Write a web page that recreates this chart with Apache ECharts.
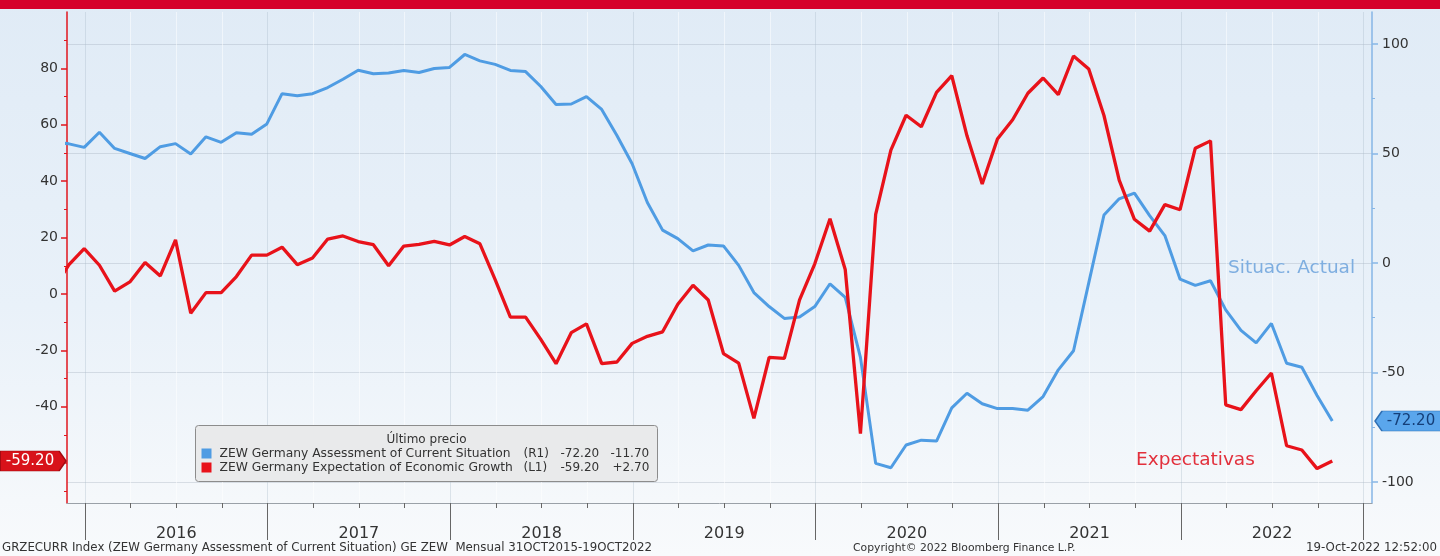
<!DOCTYPE html>
<html><head><meta charset="utf-8">
<script src="https://cdn.jsdelivr.net/npm/echarts@6/dist/echarts.min.js"></script>
<style>
html,body{margin:0;padding:0;width:1440px;height:556px;overflow:hidden;background:linear-gradient(to bottom,#e0ebf6 0%,#e9f1f9 55%,#f5f8fb 90%,#f8fafc 100%);}
#c{width:1440px;height:556px;}
</style></head><body><div id="c"></div>
<script>
// ---- data ----
const firstYear = 2015, firstMonth = 10, monthCount = 85;
const months = [];
for (let i = 0; i < monthCount; i++) {
  const m0 = firstMonth - 1 + i;
  const y = firstYear + Math.floor(m0 / 12), m = (m0 % 12) + 1;
  months.push(y + '-' + (m < 10 ? '0' + m : m));
}
// ZEW Germany Assessment of Current Situation (right axis)
const currentSituation = [
  55.2, 54.4, 52.8,
  59.7, 52.3, 50.0, 47.7, 53.1, 54.5, 49.8, 57.6, 55.1, 59.5, 58.8, 63.5,
  77.3, 76.4, 77.3, 80.1, 83.9, 88.0, 86.4, 86.7, 87.9, 87.0, 88.8, 89.3,
  95.2, 92.3, 90.7, 87.9, 87.4, 80.6, 72.4, 72.6, 76.0, 70.1, 58.2, 45.3,
  27.6, 15.0, 11.1, 5.5, 8.2, 7.8, -1.1, -13.5, -19.9, -25.3, -24.7, -19.9,
  -9.5, -15.7, -43.1, -91.5, -93.5, -83.1, -80.9, -81.3, -66.2, -59.5, -64.3, -66.5,
  -66.4, -67.2, -61.0, -48.8, -40.1, -9.1, 21.9, 29.3, 31.9, 21.6, 12.5, -7.4,
  -10.2, -8.1, -21.4, -30.8, -36.5, -27.6, -45.8, -47.6, -60.5, -72.2
];
// ZEW Germany Expectation of Economic Growth (left axis)
const expectations = [
  1.9, 10.4, 16.1,
  10.2, 1.0, 4.3, 11.2, 6.4, 19.2, -6.8, 0.5, 0.5, 6.2, 13.8, 13.8,
  16.6, 10.4, 12.8, 19.5, 20.6, 18.6, 17.5, 10.0, 17.0, 17.6, 18.7, 17.4,
  20.4, 17.8, 5.1, -8.2, -8.2, -16.1, -24.7, -13.7, -10.6, -24.7, -24.1, -17.5,
  -15.0, -13.4, -3.6, 3.1, -2.1, -21.1, -24.5, -44.1, -22.5, -22.8, -2.1, 10.7,
  26.7, 8.7, -49.5, 28.2, 51.0, 63.4, 59.3, 71.5, 77.4, 56.1, 39.0, 55.0,
  61.8, 71.2, 76.6, 70.7, 84.4, 79.8, 63.3, 40.4, 26.5, 22.3, 31.7, 29.9,
  51.7, 54.3, -39.3, -41.0, -34.3, -28.0, -53.8, -55.3, -61.9, -59.2
];
const yearLabels = ['2016', '2017', '2018', '2019', '2020', '2021', '2022'];
const leftLabelTicks = [-40, -20, 0, 20, 40, 60, 80];
const leftMinorTicks = [-70, -50, -30, -10, 10, 30, 50, 70, 90];
const rightLabelTicks = [-100, -50, 0, 50, 100];
const rightMinorTicks = [-75, -25, 25, 75];

// ---- helpers (month string -> months since Jan 2016, point at month end) ----
function monthPos(s) {
  const y = +s.slice(0, 4), m = +s.slice(5, 7);
  return (y - 2016) * 12 + (m - 1) + 0.95;
}
const xMin = -1.18, xMax = 84.56;
const yearBoundaries = [], yearCenters = [], quarterTicks = [];
for (let i = 0; i <= yearLabels.length; i++) yearBoundaries.push(i * 12);
for (let i = 0; i < yearLabels.length; i++) yearCenters.push(i * 12 + 6);
for (let q = 0; q <= 28; q++) if (q % 4 !== 0) quarterTicks.push(q * 3);

const blueData = months.map((m, i) => [monthPos(m), currentSituation[i]]);
const redData = months.map((m, i) => [monthPos(m), expectations[i]]);
const lastBlue = currentSituation[currentSituation.length - 1];
const lastRed = expectations[expectations.length - 1];

const FONT = 'DejaVu Sans';
const LZ = 120;
const chart = echarts.init(document.getElementById('c'), null, {renderer: 'canvas'});
chart.setOption({
  animation: false,
  backgroundColor: 'transparent',
  textStyle: {fontFamily: FONT},
  grid: {left: 67, right: 68, top: 12, bottom: 53, containLabel: false},
  xAxis: [
    {
      type: 'value', min: xMin, max: xMax, position: 'bottom',
      axisLine: {show: true, onZero: false, lineStyle: {color: '#9aa1a8', width: 1}},
      axisTick: {show: true, customValues: yearBoundaries, length: 37, lineStyle: {color: '#666', width: 1}},
      axisLabel: {show: true, customValues: yearCenters, margin: 23, fontSize: 16, color: '#333', fontFamily: FONT,
        formatter: v => yearLabels[Math.round((v - 6) / 12)]},
      splitLine: {show: true, lineStyle: {color: 'rgba(170,185,200,0.35)', width: 1}}
    },
    {
      type: 'value', min: xMin, max: xMax, position: 'bottom',
      axisLine: {show: false, onZero: false},
      axisTick: {show: true, customValues: quarterTicks, length: 5, lineStyle: {color: '#666', width: 1}},
      axisLabel: {show: false},
      splitLine: {show: true, lineStyle: {color: 'rgba(255,255,255,0.5)', width: 1}}
    }
  ],
  yAxis: [
    {
      type: 'value', min: -74.1, max: 100, position: 'left',
      axisLine: {show: true, onZero: false, lineStyle: {color: '#e0161e', width: 1.5}},
      axisTick: {show: true, customValues: leftLabelTicks.concat([-60]), length: 6, lineStyle: {color: '#e0161e', width: 1.5}},
      axisLabel: {show: true, customValues: leftLabelTicks, margin: 9, fontSize: 14, color: '#333', fontFamily: FONT},
      splitLine: {show: false}
    },
    {
      type: 'value', min: -109.6, max: 114.6, position: 'right',
      axisLine: {show: true, onZero: false, lineStyle: {color: '#86b6e6', width: 1.5}},
      axisTick: {show: true, customValues: rightLabelTicks, length: 6, lineStyle: {color: '#86b6e6', width: 1.5}},
      axisLabel: {show: true, customValues: rightLabelTicks, margin: 10, fontSize: 14, color: '#333', fontFamily: FONT},
      splitLine: {show: true, lineStyle: {color: 'rgba(160,172,185,0.35)', width: 1}}
    },
    {
      type: 'value', min: -74.1, max: 100, position: 'left',
      axisLine: {show: false, onZero: false},
      axisTick: {show: true, customValues: leftMinorTicks, length: 3, lineStyle: {color: '#e0161e', width: 1}},
      axisLabel: {show: false}, splitLine: {show: false}
    },
    {
      type: 'value', min: -109.6, max: 114.6, position: 'right',
      axisLine: {show: false, onZero: false},
      axisTick: {show: true, customValues: rightMinorTicks, length: 3, lineStyle: {color: '#86b6e6', width: 1}},
      axisLabel: {show: false}, splitLine: {show: false}
    }
  ],
  series: [
    {
      name: 'ZEW Germany Assessment of Current Situation', type: 'line',
      xAxisIndex: 0, yAxisIndex: 1, data: blueData, showSymbol: false, symbol: 'none',
      lineStyle: {color: '#4f9ce3', width: 3}, itemStyle: {color: '#4f9ce3'}, clip: true, z: 3,
      markPoint: {
        silent: true, animation: false,
        data: [{
          coord: [xMax, lastBlue],
          symbol: 'path://M0,10 L7,0 L66,0 L66,20 L7,20 Z',
          symbolSize: [66, 20], symbolOffset: [36, 0],
          itemStyle: {color: '#5aa6ec', borderColor: '#2f6fb3', borderWidth: 1},
          label: {show: true, position: 'inside', offset: [3, 0], formatter: lastBlue.toFixed(2),
            color: '#153f78', fontSize: 15, fontFamily: FONT}
        }]
      }
    },
    {
      name: 'ZEW Germany Expectation of Economic Growth', type: 'line',
      xAxisIndex: 0, yAxisIndex: 0, data: redData, showSymbol: false, symbol: 'none',
      lineStyle: {color: '#e8121a', width: 3.3}, itemStyle: {color: '#e8121a'}, clip: true, z: 4,
      markPoint: {
        silent: true, animation: false,
        data: [{
          coord: [xMin, lastRed],
          symbol: 'path://M0,0 L59,0 L66,10 L59,20 L0,20 Z',
          symbolSize: [66, 20], symbolOffset: [-34, 0],
          itemStyle: {color: '#d8121a', borderColor: '#a00c12', borderWidth: 1},
          label: {show: true, position: 'inside', offset: [-3, 0], formatter: lastRed.toFixed(2),
            color: '#ffffff', fontSize: 15, fontFamily: FONT}
        }]
      }
    }
  ],
  graphic: [
    {type: 'rect', left: 0, top: 0, z: 100, shape: {width: 1440, height: 9}, style: {fill: '#d5002a'}},
    {type: 'text', left: 1228, top: 259, z: 50, style: {text: 'Situac. Actual', fill: '#7eaee0', font: '18.5px "DejaVu Sans"'}},
    {type: 'text', left: 1136, top: 451, z: 50, style: {text: 'Expectativas', fill: '#e2303c', font: '18.5px "DejaVu Sans"'}},
    {type: 'group', left: 195, top: 425, z: LZ, children: [
      {type: 'rect', z: LZ, shape: {x: 0, y: 0, width: 462, height: 56, r: 3}, style: {fill: '#e9eaeb', stroke: '#8c8c8c', lineWidth: 1}},
      {type: 'text', z: LZ + 1, x: 231, y: 14, style: {text: 'Último precio', fill: '#333', font: '12px "DejaVu Sans"', align: 'center', verticalAlign: 'middle'}},
      {type: 'rect', z: LZ + 1, shape: {x: 6, y: 23, width: 10, height: 10}, style: {fill: '#4f9ce3'}},
      {type: 'rect', z: LZ + 1, shape: {x: 6, y: 37, width: 10, height: 10}, style: {fill: '#e8121a'}},
      {type: 'text', z: LZ + 1, x: 24, y: 28, style: {text: 'ZEW Germany Assessment of Current Situation', fill: '#333', font: '12.3px "DejaVu Sans"', verticalAlign: 'middle'}},
      {type: 'text', z: LZ + 1, x: 328, y: 28, style: {text: '(R1)', fill: '#333', font: '12px "DejaVu Sans"', verticalAlign: 'middle'}},
      {type: 'text', z: LZ + 1, x: 365, y: 28, style: {text: '-72.20', fill: '#333', font: '12px "DejaVu Sans"', verticalAlign: 'middle'}},
      {type: 'text', z: LZ + 1, x: 415, y: 28, style: {text: '-11.70', fill: '#333', font: '12px "DejaVu Sans"', verticalAlign: 'middle'}},
      {type: 'text', z: LZ + 1, x: 24, y: 42, style: {text: 'ZEW Germany Expectation of Economic Growth', fill: '#333', font: '12.3px "DejaVu Sans"', verticalAlign: 'middle'}},
      {type: 'text', z: LZ + 1, x: 328, y: 42, style: {text: '(L1)', fill: '#333', font: '12px "DejaVu Sans"', verticalAlign: 'middle'}},
      {type: 'text', z: LZ + 1, x: 365, y: 42, style: {text: '-59.20', fill: '#333', font: '12px "DejaVu Sans"', verticalAlign: 'middle'}},
      {type: 'text', z: LZ + 1, x: 417, y: 42, style: {text: '+2.70', fill: '#333', font: '12px "DejaVu Sans"', verticalAlign: 'middle'}}
    ]},
    {type: 'text', left: 2, top: 542, z: 50, style: {text: 'GRZECURR Index (ZEW Germany Assessment of Current Situation) GE ZEW  Mensual 31OCT2015-19OCT2022', fill: '#333', font: '11.8px "DejaVu Sans"'}},
    {type: 'text', left: 853, top: 543, z: 50, style: {text: 'Copyright© 2022 Bloomberg Finance L.P.', fill: '#333', font: '10.8px "DejaVu Sans"'}},
    {type: 'text', right: 3, top: 542, z: 50, style: {text: '19-Oct-2022 12:52:00', fill: '#333', font: '11.8px "DejaVu Sans"'}}
  ]
});
</script></body></html>
